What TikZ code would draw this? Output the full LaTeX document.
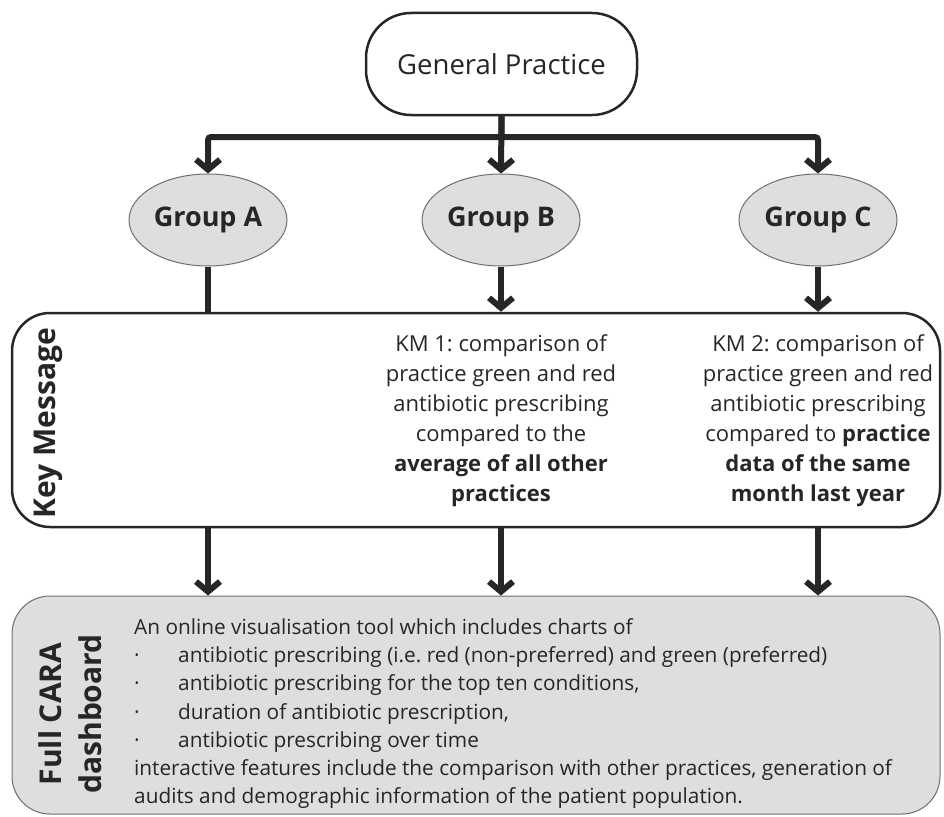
\documentclass[tikz,border=0pt]{standalone}
\usepackage{fontspec}
\setmainfont{Open Sans}
\frenchspacing
\usetikzlibrary{arrows.meta,shapes.geometric,calc}
\definecolor{ink}{HTML}{262626}
\definecolor{bluegray}{HTML}{DEDEDE}
\definecolor{edgegray}{HTML}{6E6E6E}
\begin{document}
\begin{tikzpicture}[x=1pt,y=-1pt,
  conn/.style={line width=6pt, draw=ink, rounded corners=3pt, -{Straight Barb[length=10pt,width=24pt,line width=6pt]}},
  plainconn/.style={line width=6pt, draw=ink},
  groupnode/.style={ellipse, draw=edgegray, line width=1pt, fill=bluegray, minimum width=158pt, minimum height=92pt, inner sep=0pt, text=ink, font=\fontsize{27}{30}\selectfont\bfseries},
  kmtext/.style={align=center, text=ink, inner sep=0pt, font=\fontsize{22}{30}\selectfont},
  sidelabel/.style={rotate=90, align=center, text=ink, inner sep=0pt, font=\fontsize{30}{40}\selectfont\bfseries}
]
\useasboundingbox (0,0) rectangle (944,816);

% General Practice
\node[draw=ink, line width=2.5pt, rounded corners=45pt, minimum width=271pt, minimum height=102pt, inner sep=0pt, text=ink, font=\fontsize{27.5}{30}\selectfont] (gp) at (501.5,64) {General Practice};

% Groups
\node[groupnode] (ga) at (208,220) {Group A};
\node[groupnode] (gb) at (501,220) {Group B};
\node[groupnode] (gc) at (818,220) {Group C};

% Key message box
\node[draw=ink, line width=2.5pt, rounded corners=38pt, minimum width=928pt, minimum height=214pt, inner sep=0pt] (kmbox) at (476,420) {};
\node[sidelabel] (kmlabel) at (48,423) {Key Message};
\node[kmtext] (km1) at (501,421) {KM 1: comparison of\\practice green and red\\antibiotic prescribing\\compared to the\\\textbf{average of all other}\\\textbf{practices}};
\node[kmtext] (km2) at (818,421) {KM 2: comparison of\\practice green and red\\antibiotic prescribing\\compared to \textbf{practice}\\\textbf{data of the same}\\\textbf{month last year}};

% Dashboard box
\node[draw=edgegray, fill=bluegray, line width=1pt, rounded corners=38pt, minimum width=928pt, minimum height=218pt, inner sep=0pt] (dash) at (476,705) {};
\node[sidelabel] (dashlabel) at (70,714) {Full CARA\\dashboard};
\node[anchor=north west, align=left, text=ink, inner sep=0pt, font=\fontsize{20.8}{28.3}\selectfont] (dashtext) at (134,618) {An online visualisation tool which includes charts of\\
\makebox[44pt][l]{·}antibiotic prescribing (i.e. red (non-preferred) and green (preferred)\\
\makebox[44pt][l]{·}antibiotic prescribing for the top ten conditions,\\
\makebox[44pt][l]{·}duration of antibiotic prescription,\\
\makebox[44pt][l]{·}antibiotic prescribing over time\\
interactive features include the comparison with other practices, generation of\\
audits and demographic information of the patient population.};

% Connectors top
\coordinate (split) at (501.5,137);
\draw[conn] (gp.south) -- (split) -| (ga.north);
\draw[conn] (gp.south) -- (gb.north);
\draw[conn] (split) -| (gc.north);

% Groups to key message
\draw[plainconn] (ga.south) -- (ga.south |- kmbox.north);
\draw[conn] (gb.south) -- (gb.south |- kmbox.north);
\draw[conn] (gc.south) -- (gc.south |- kmbox.north);

% Key message to dashboard
\draw[conn] (ga.south |- kmbox.south) -- (ga.south |- dash.north);
\draw[conn] (gb.south |- kmbox.south) -- (gb.south |- dash.north);
\draw[conn] (gc.south |- kmbox.south) -- (gc.south |- dash.north);
\end{tikzpicture}
\end{document}
